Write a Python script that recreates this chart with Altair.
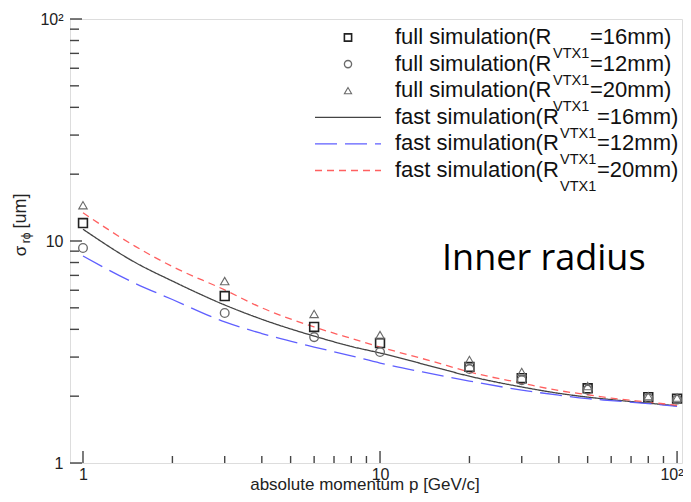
import altair as alt
import pandas as pd

# ---- data ----
momentum = [1, 3, 6, 10, 20, 30, 50, 80, 100]
full_16 = [12.05, 5.65, 4.10, 3.47, 2.71, 2.41, 2.17, 1.98, 1.95]
full_12 = [9.3, 4.74, 3.69, 3.16, 2.65, 2.36, 2.14, 1.96, 1.93]
full_20 = [14.5, 6.6, 4.69, 3.77, 2.91, 2.57, 2.22, 2.00, 1.97]

fast_p = [1, 1.5, 2, 3, 4, 6, 8, 10, 15, 20, 30, 40, 50, 60, 80, 100]
fast_16 = [11.3, 8.0, 6.6, 5.15, 4.44, 3.73, 3.35, 3.13, 2.72, 2.46, 2.2, 2.06, 1.98, 1.93, 1.86, 1.81]
fast_12 = [8.56, 6.44, 5.45, 4.32, 3.83, 3.33, 3.04, 2.82, 2.52, 2.34, 2.13, 2.02, 1.95, 1.91, 1.85, 1.80]
fast_20 = [13.4, 9.46, 7.67, 6.02, 5.0, 4.1, 3.64, 3.33, 2.87, 2.57, 2.29, 2.12, 2.03, 1.96, 1.88, 1.82]

series_keys = ["full16", "full12", "full20", "fast16", "fast12", "fast20"]
legend_main = ["full simulation(R", "full simulation(R", "full simulation(R",
               "fast simulation(R", "fast simulation(R", "fast simulation(R"]
legend_sub = ["VTX1"] * 6
legend_end = ["=16mm)", "=12mm)", "=20mm)", "=16mm)", "=12mm)", "=20mm)"]
legend_kind = ["full", "full", "full", "fast", "fast", "fast"]

major_ticks = [1, 10, 100]
minor_ticks = [2, 3, 4, 5, 6, 7, 8, 9, 20, 30, 40, 50, 60, 70, 80, 90]

x_title = ["absolute momentum p [GeV/c]"]
y_title_parts = ["σ", "rϕ", "[um]"]
note = ["Inner radius"]

# ---- tables ----
pts = pd.concat([
    pd.DataFrame({"p": momentum, "s": v, "key": k})
    for v, k in [(full_16, "full16"), (full_12, "full12"), (full_20, "full20")]
])
lines = pd.concat([
    pd.DataFrame({"p": fast_p, "s": v, "key": k})
    for v, k in [(fast_16, "fast16"), (fast_12, "fast12"), (fast_20, "fast20")]
])
leg = pd.DataFrame({"i": range(6), "key": series_keys, "main": legend_main,
                    "sub": legend_sub, "end": legend_end, "kind": legend_kind})
maj = pd.DataFrame({"v": major_ticks})
mnr = pd.DataFrame({"v": minor_ticks})

W, H = 612, 444
FONT = "Liberation Sans"
xscale = alt.Scale(type="log", domain=[0.9042, 103.9], nice=False)
yscale = alt.Scale(type="log", domain=[1, 100], nice=False)

color_scale = alt.Scale(domain=series_keys,
                        range=["#222222", "#6a6a6a", "#6a6a6a", "#444444", "#5f5fff", "#ff6060"])
dash_scale = alt.Scale(domain=["fast16", "fast12", "fast20"], range=[[1, 0], [22, 8], [7, 5]])
shape_scale = alt.Scale(domain=["full16", "full12", "full20"], range=["square", "circle", "triangle-up"])
sw_scale = alt.Scale(domain=["full16", "full12", "full20"], range=[1.6, 1.1, 1.1])
size_scale = alt.Scale(domain=["full16", "full12", "full20"], range=[78, 72, 56])

label_expr = "datum.value >= 100 ? '10\u00b2' : format(datum.value, 'd')"

x_axis = alt.Axis(
    values=major_ticks, labelExpr=label_expr, ticks=False, domain=False, grid=False,
    labelFontSize=16, labelFont=FONT, labelColor="#222", labelPadding=3, title=None, labelFlush=False,
    labelAlign={"condition": {"test": "datum.value >= 100", "value": "right"}, "value": "center"},
    labelOffset={"condition": {"test": "datum.value >= 100", "value": 6}, "value": 0},
)
y_axis = alt.Axis(
    values=major_ticks, labelExpr=label_expr, ticks=False, domain=False, grid=False,
    labelFontSize=16, labelFont=FONT, labelColor="#222", labelPadding=7, title=None, labelFlush=False,
)

line_layer = alt.Chart(lines).mark_line(strokeWidth=1.3, interpolate="monotone").encode(
    x=alt.X("p:Q", scale=xscale, axis=x_axis),
    y=alt.Y("s:Q", scale=yscale, axis=y_axis),
    color=alt.Color("key:N", scale=color_scale, legend=None),
    strokeDash=alt.StrokeDash("key:N", scale=dash_scale, legend=None),
    detail="key:N",
)

point_layer = alt.Chart(pts).mark_point(filled=False, opacity=1).encode(
    x=alt.X("p:Q", scale=xscale, axis=None),
    y=alt.Y("s:Q", scale=yscale, axis=None),
    shape=alt.Shape("key:N", scale=shape_scale, legend=None),
    color=alt.Color("key:N", scale=color_scale, legend=None),
    strokeWidth=alt.StrokeWidth("key:N", scale=sw_scale, legend=None),
    size=alt.Size("key:N", scale=size_scale, legend=None),
)

tick_color = "#444444"
x_major = alt.Chart(maj).mark_rule(color=tick_color, strokeWidth=1.4).encode(
    x=alt.X("v:Q", scale=xscale, axis=None), y=alt.value(H), y2=alt.value(H - 12))
x_minor = alt.Chart(mnr).mark_rule(color=tick_color, strokeWidth=1.4).encode(
    x=alt.X("v:Q", scale=xscale, axis=None), y=alt.value(H), y2=alt.value(H - 7))
y_major = alt.Chart(maj).mark_rule(color=tick_color, strokeWidth=1.4).encode(
    y=alt.Y("v:Q", scale=yscale, axis=None), x=alt.value(0), x2=alt.value(12))
y_minor = alt.Chart(mnr).mark_rule(color=tick_color, strokeWidth=1.4).encode(
    y=alt.Y("v:Q", scale=yscale, axis=None), x=alt.value(0), x2=alt.value(9))

# ---- legend ----
legb = alt.Chart(leg).transform_calculate(
    ty="25 + 26.6 * datum.i",
    sy="25 + 26.6 * datum.i + 14",
    my="25 + 26.6 * datum.i - 6.5",
    sx="datum.kind == 'full' ? 483 : 490",
    ex="datum.kind == 'full' ? 520 : 527",
)
leg_main = legb.mark_text(align="left", baseline="alphabetic", fontSize=22, font=FONT, color="#111").encode(
    x=alt.value(325), y=alt.Y("ty:Q", scale=None, axis=None), text="main:N")
leg_sub = legb.mark_text(align="left", baseline="alphabetic", fontSize=14.5, font=FONT, color="#111").encode(
    x=alt.X("sx:Q", scale=None, axis=None), y=alt.Y("sy:Q", scale=None, axis=None), text="sub:N")
leg_end = legb.mark_text(align="left", baseline="alphabetic", fontSize=22, font=FONT, color="#111").encode(
    x=alt.X("ex:Q", scale=None, axis=None), y=alt.Y("ty:Q", scale=None, axis=None), text="end:N")
leg_pts = legb.transform_filter("datum.kind == 'full'").mark_point(filled=False, opacity=1, size=52).encode(
    x=alt.value(278), y=alt.Y("my:Q", scale=None, axis=None),
    shape=alt.Shape("key:N", scale=shape_scale, legend=None),
    color=alt.Color("key:N", scale=color_scale, legend=None),
    strokeWidth=alt.StrokeWidth("key:N", scale=sw_scale, legend=None),
)
leg_lines = legb.transform_filter("datum.kind == 'fast'").mark_rule(strokeWidth=1.3).encode(
    x=alt.value(245), x2=alt.value(311), y=alt.Y("my:Q", scale=None, axis=None),
    color=alt.Color("key:N", scale=color_scale, legend=None),
    strokeDash=alt.StrokeDash("key:N", scale=dash_scale, legend=None),
)

# ---- titles and note ----
xt = alt.Chart(pd.DataFrame({"t": x_title})).mark_text(
    align="center", baseline="alphabetic", fontSize=17, font=FONT, color="#222").encode(
    text="t:N", x=alt.value(295), y=alt.value(471))
yt1 = alt.Chart(pd.DataFrame({"t": [y_title_parts[0]]})).mark_text(
    align="center", baseline="alphabetic", angle=270, fontSize=17, font=FONT, color="#222").encode(
    text="t:N", x=alt.value(-44), y=alt.value(232))
yt2 = alt.Chart(pd.DataFrame({"t": [y_title_parts[1]]})).mark_text(
    align="center", baseline="alphabetic", angle=270, fontSize=12, font=FONT, color="#222").encode(
    text="t:N", x=alt.value(-40), y=alt.value(219))
yt3 = alt.Chart(pd.DataFrame({"t": [y_title_parts[2]]})).mark_text(
    align="center", baseline="alphabetic", angle=270, fontSize=18, font=FONT, color="#222").encode(
    text="t:N", x=alt.value(-44), y=alt.value(192))
nt = alt.Chart(pd.DataFrame({"t": note})).mark_text(
    align="left", baseline="alphabetic", fontSize=36, font="Open Sans", color="#000").encode(
    text="t:N", x=alt.value(372), y=alt.value(251))

chart = alt.layer(
    line_layer, point_layer, x_major, x_minor, y_major, y_minor,
    leg_lines, leg_pts, leg_main, leg_sub, leg_end, xt, yt1, yt2, yt3, nt,
).resolve_scale(x="independent", y="independent").properties(
    width=W, height=H,
    padding={"left": 62, "top": 11, "right": 1, "bottom": 31},
    autosize=alt.AutoSizeParams(type="none"),
).configure_view(stroke="#444444", strokeWidth=1.5).configure(background="white")

chart.save("out.html", embed_options={"renderer": "svg", "actions": False})
